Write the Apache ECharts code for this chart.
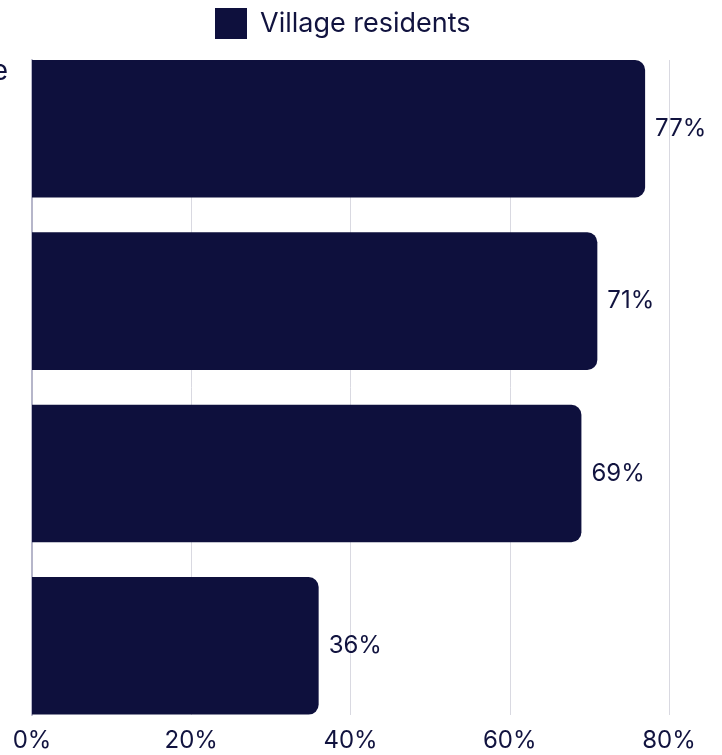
<!DOCTYPE html>
<html>
<head>
<meta charset="utf-8">
<script src="https://cdn.jsdelivr.net/npm/echarts@6/dist/echarts.min.js"></script>
<style>
html,body{margin:0;padding:0;background:#fff;}
#c{width:722px;height:755px;}
</style>
</head>
<body>
<div id="c"></div>
<script>
// Category labels (mostly cropped off the left edge in the reference; only a trailing "e" is visible)
const categories = [
  "Agree their village is a great place to live\nfor people of all ages and\nbackgrounds, with good\nlocal services and\ncommunity spirit",
  "Feel safe in their village",
  "Know their neighbours",
  "Volunteer locally"
];
const seriesName = "Village residents";
const values = [77, 71, 69, 36];
const xMin = 0, xMax = 80, xInterval = 20;

const INK = '#11133f';
const BAR = '#0e103d';
const FONT = 'Inter';

const ctx = document.createElement('canvas').getContext('2d');
ctx.font = '28px ' + FONT;
const firstLineW = ctx.measureText(categories[0].split('\n')[0]).width;
const catMargin = 24 + firstLineW;

const chart = echarts.init(document.getElementById('c'), null, {renderer: 'canvas'});
chart.setOption({
  animation: false,
  backgroundColor: '#ffffff',
  textStyle: {fontFamily: FONT, color: INK},
  legend: {
    left: 210, top: 3,
    itemWidth: 32, itemHeight: 31,
    icon: 'rect',
    data: [seriesName],
    textStyle: {fontSize: 27, color: INK, fontFamily: FONT, padding: [0, 0, 0, 8]}
  },
  grid: [
    {left: 32, right: 53, top: 42.6, bottom: 23, containLabel: false, outerBoundsMode: 'none'},
    {left: 32, right: 53, top: 60, bottom: 40, containLabel: false, outerBoundsMode: 'none'}
  ],
  xAxis: [
    {gridIndex: 0, type: 'value', min: xMin, max: xMax, interval: xInterval, show: false},
    {
      gridIndex: 1, type: 'value', min: xMin, max: xMax, interval: xInterval,
      axisLine: {show: false}, axisTick: {show: false},
      splitLine: {show: true, lineStyle: {color: '#d9d9e1', width: 1}},
      axisLabel: {formatter: '{value}%', fontSize: 24, color: INK, fontFamily: FONT, margin: 14}
    }
  ],
  yAxis: [
    {
      gridIndex: 0, type: 'category', data: categories, inverse: true,
      axisLine: {show: false}, axisTick: {show: false}, splitLine: {show: false},
      axisLabel: {
        interval: 0, align: 'left', margin: catMargin,
        fontSize: 28, lineHeight: 28.4, color: INK, fontFamily: FONT
      }
    },
    {
      gridIndex: 1, type: 'value', min: 0, max: 1,
      axisLine: {show: true, lineStyle: {color: '#b6b6ca', width: 2}},
      axisTick: {show: false}, axisLabel: {show: false}, splitLine: {show: false}
    }
  ],
  series: [{
    name: seriesName,
    type: 'bar',
    xAxisIndex: 0, yAxisIndex: 0,
    data: values,
    barCategoryGap: '20.2%',
    z: 5,
    itemStyle: {color: BAR, borderRadius: [0, 10, 10, 0]},
    label: {
      show: true, position: 'right', distance: 10,
      formatter: '{c}%', fontSize: 24, color: INK, fontFamily: FONT
    }
  }]
});
</script>
</body>
</html>
